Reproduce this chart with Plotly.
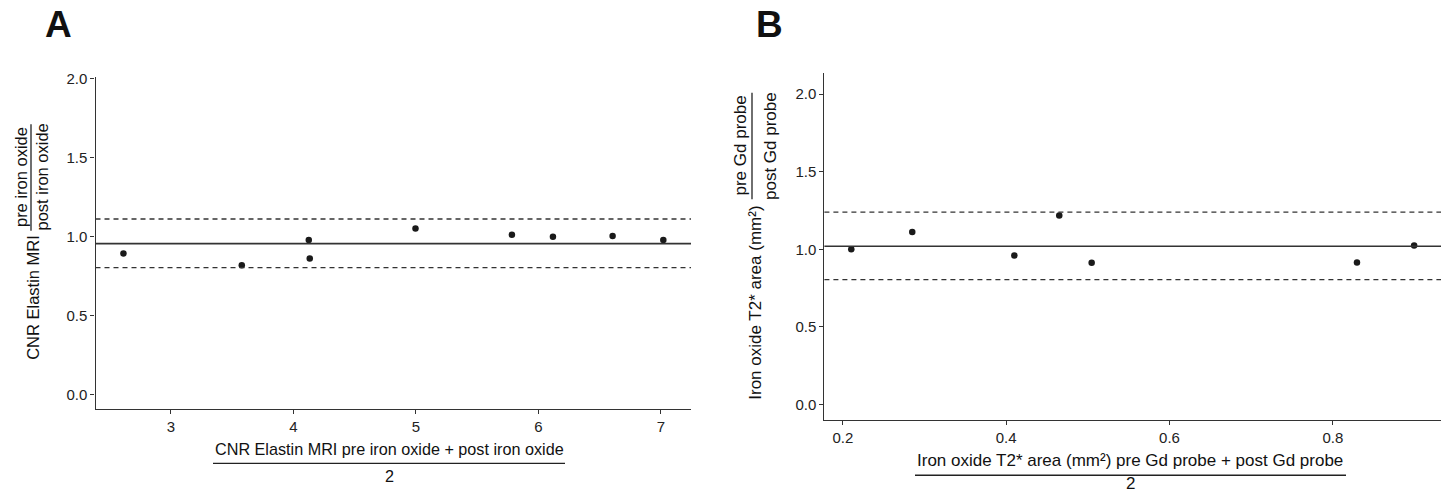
import plotly.graph_objects as go

W, H = 1445, 494

# ---------------- data ----------------
# Panel A: CNR Elastin MRI, mean vs ratio (pre/post iron oxide)
a_mean_x = [2.612, 3.578, 4.125, 4.133, 4.996, 5.783, 6.118, 6.605, 7.019]
a_ratio_y = [0.894, 0.819, 0.979, 0.862, 1.052, 1.012, 1.000, 1.004, 0.979]
a_bias = 0.956
a_upper = 1.112
a_lower = 0.804

# Panel B: Iron oxide T2* area, mean vs ratio (pre/post Gd probe)
b_mean_x = [0.2103, 0.285, 0.410, 0.465, 0.5047, 0.8296, 0.8996]
b_ratio_y = [1.000, 1.112, 0.960, 1.218, 0.913, 0.915, 1.025]
b_bias = 1.019
b_upper = 1.239
b_lower = 0.805

a_xticks = [3, 4, 5, 6, 7]
b_xticks = [0.2, 0.4, 0.6, 0.8]
y_ticks = [0.0, 0.5, 1.0, 1.5, 2.0]

FONT = "Liberation Sans, Arial, Helvetica, sans-serif"
INK = "#1a1a1a"
AX = "#333333"


def px(x):
    return x / W


def py(y):
    return 1 - y / H


fig = go.Figure()

fig.add_trace(go.Scatter(x=a_mean_x, y=a_ratio_y, mode="markers",
                         marker=dict(size=6.5, color=INK), xaxis="x", yaxis="y",
                         showlegend=False, hoverinfo="x+y"))
fig.add_trace(go.Scatter(x=b_mean_x, y=b_ratio_y, mode="markers",
                         marker=dict(size=6.5, color=INK), xaxis="x2", yaxis="y2",
                         showlegend=False, hoverinfo="x+y"))

axis_common = dict(showgrid=False, zeroline=False, showline=True,
                   linecolor=AX, linewidth=1.3, ticks="outside", ticklen=4,
                   tickwidth=1, tickcolor=AX,
                   tickfont=dict(family=FONT, size=15, color="#222222"))

fig.update_layout(
    width=W, height=H, margin=dict(l=0, r=0, t=0, b=0),
    paper_bgcolor="white", plot_bgcolor="white",
    xaxis=dict(domain=[px(95.5), px(691)], range=[2.384, 7.245],
               tickvals=a_xticks, anchor="y", **axis_common),
    yaxis=dict(domain=[py(408), py(71)], range=[-0.094, 2.0125],
               tickvals=y_ticks, tickformat=".1f", anchor="x", **axis_common),
    xaxis2=dict(domain=[px(824.4), px(1441)], range=[0.1774, 0.9325],
                tickvals=b_xticks, tickformat=".1f", anchor="y2", **axis_common),
    yaxis2=dict(domain=[py(419), py(67)], range=[-0.1, 2.135],
                tickvals=y_ticks, tickformat=".1f", anchor="x2", **axis_common),
)

# Bias and limits of agreement lines
shapes = []
for xr, yr, bias, up, lo in [("x domain", "y", a_bias, a_upper, a_lower),
                             ("x2 domain", "y2", b_bias, b_upper, b_lower)]:
    shapes.append(dict(type="line", xref=xr, yref=yr, x0=0, x1=1, y0=bias, y1=bias,
                       line=dict(color=AX, width=1.6)))
    for v in (up, lo):
        shapes.append(dict(type="line", xref=xr, yref=yr, x0=0, x1=1, y0=v, y1=v,
                           line=dict(color=AX, width=1.3, dash="5px,4px")))

annotations = []


def text(t, x, y, size, angle=0, bold=False, color="#111111", yanchor="middle"):
    annotations.append(dict(text=f"<b>{t}</b>" if bold else t,
                            xref="paper", yref="paper", x=px(x), y=py(y),
                            xanchor="center", yanchor=yanchor, showarrow=False,
                            textangle=angle, borderpad=0,
                            font=dict(family=FONT, size=size, color=color)))


def hbar(x0, x1, y):
    shapes.append(dict(type="line", xref="paper", yref="paper",
                       x0=px(x0), x1=px(x1), y0=py(y), y1=py(y),
                       line=dict(color="#222222", width=1.3)))


def vbar(x, y0, y1):
    shapes.append(dict(type="line", xref="paper", yref="paper",
                       x0=px(x), x1=px(x), y0=py(y0), y1=py(y1),
                       line=dict(color="#222222", width=1.3)))


# Panel letters
text("A", 58.5, 18, 37, bold=True)
text("B", 770, 18, 37, bold=True)

# Panel A y title
text("CNR Elastin MRI", 33, 295, 16.5, angle=-90)
text("pre iron oxide", 20.5, 173, 16.5, angle=-90)
vbar(31, 119, 227)
text("post iron oxide", 42, 173, 16.5, angle=-90)

# Panel A x title
text("CNR Elastin MRI pre iron oxide + post iron oxide", 389, 448, 16.2)
hbar(213, 565, 463)
text("2", 389, 476, 16.2)

# Panel B y title
text("Iron oxide T2* area (mm²)", 756, 300, 17, angle=-90)
text("pre Gd probe", 740.5, 141, 17, angle=-90)
vbar(752, 87, 195)
text("post Gd probe", 770, 141, 17, angle=-90)

# Panel B x title
text("Iron oxide T2* area (mm²) pre Gd probe + post Gd probe", 1130, 460, 17)
hbar(915, 1346, 475)
text("2", 1130, 494, 17, yanchor="bottom")

fig.update_layout(shapes=shapes, annotations=annotations)

fig.write_html("out.html",
               config={"displayModeBar": False},
               post_script="document.body.style.margin='0';"
                           "document.body.style.overflow='hidden';")
